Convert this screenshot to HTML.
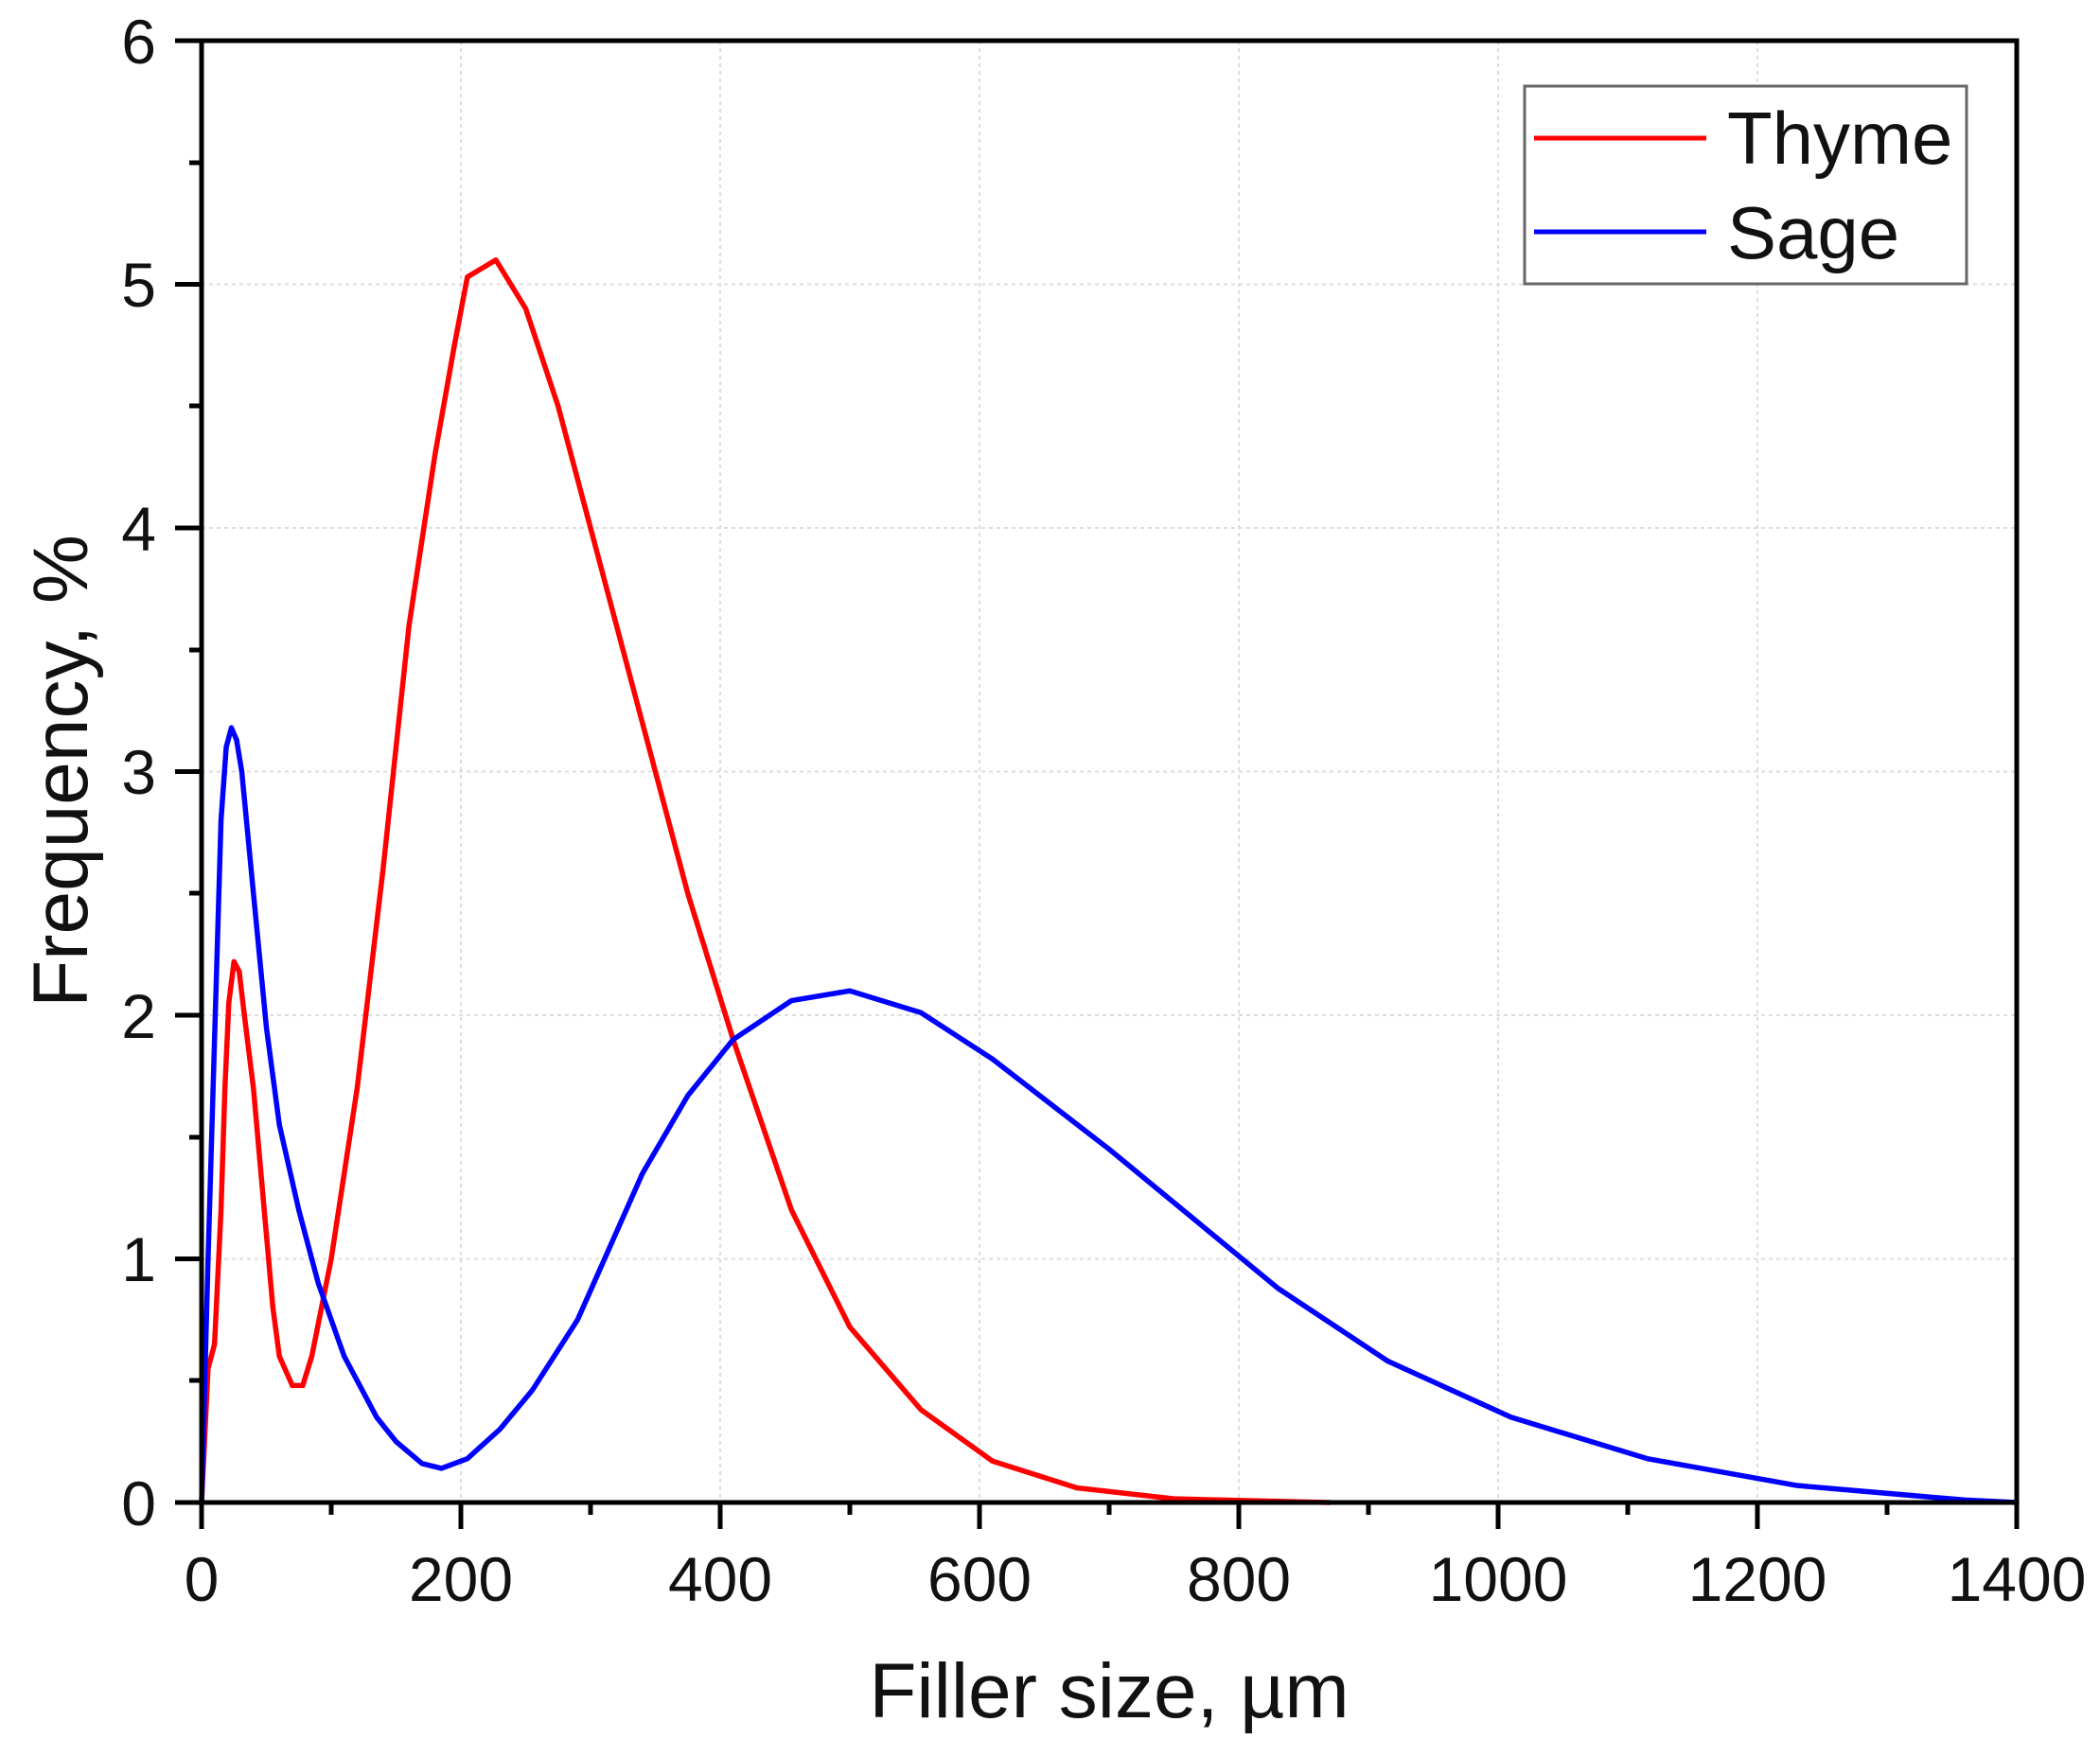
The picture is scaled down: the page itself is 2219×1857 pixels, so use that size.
<!DOCTYPE html>
<html><head><meta charset="utf-8"><style>html,body{margin:0;padding:0;background:#fff}svg{display:block}</style></head>
<body>
<svg width="2219" height="1857" viewBox="0 0 2219 1857" xmlns="http://www.w3.org/2000/svg" font-family="Liberation Sans, Arial, sans-serif">
<rect width="2219" height="1857" fill="#fff"/>
<g stroke="#ddd" stroke-width="2" stroke-dasharray="4,4">
<line x1="487" y1="43" x2="487" y2="1588"/><line x1="761" y1="43" x2="761" y2="1588"/><line x1="1035" y1="43" x2="1035" y2="1588"/><line x1="1309" y1="43" x2="1309" y2="1588"/><line x1="1583" y1="43" x2="1583" y2="1588"/><line x1="1857" y1="43" x2="1857" y2="1588"/>
<line x1="213" y1="1330.5" x2="2131" y2="1330.5"/><line x1="213" y1="1073" x2="2131" y2="1073"/><line x1="213" y1="815.5" x2="2131" y2="815.5"/><line x1="213" y1="558" x2="2131" y2="558"/><line x1="213" y1="300.5" x2="2131" y2="300.5"/>
</g>
<g transform="translate(213,1588) scale(1.37,-257.5)" fill="none" stroke-width="5.5" stroke-linejoin="round" stroke-linecap="round">
<polyline vector-effect="non-scaling-stroke" stroke="#ff0000" points="0,0 5,0.55 10,0.65 15,1.2 18,1.7 21,2.05 25,2.22 29,2.18 33,2.0 40,1.7 50,1.1 55,0.8 60,0.6 70,0.48 78,0.48 85,0.6 100,1.0 120,1.7 140,2.6 160,3.6 180,4.3 195,4.75 205,5.03 227,5.1 250,4.9 275,4.5 300,4.0 340,3.2 375,2.5 410,1.9 455,1.2 500,0.72 555,0.38 610,0.17 675,0.06 750,0.015 870,0"/>
<polyline vector-effect="non-scaling-stroke" stroke="#0000ff" points="0,0 5,1.0 10,1.9 15,2.8 19,3.1 23,3.18 27,3.13 31,3.0 40,2.5 50,1.95 60,1.55 75,1.2 90,0.9 110,0.6 135,0.35 150,0.25 170,0.16 185,0.14 205,0.18 230,0.3 255,0.46 290,0.75 340,1.35 375,1.67 410,1.9 455,2.06 500,2.1 555,2.01 610,1.82 700,1.45 830,0.88 915,0.58 1010,0.35 1115,0.18 1230,0.07 1360,0.01 1400,0"/>
</g>
<g stroke="#000" stroke-width="5" fill="none">
<rect x="213" y="43" width="1918" height="1545"/>
<path d="M213,1588v28 M487,1588v28 M761,1588v28 M1035,1588v28 M1309,1588v28 M1583,1588v28 M1857,1588v28 M2131,1588v28"/>
<path d="M350,1588v13 M624,1588v13 M898,1588v13 M1172,1588v13 M1446,1588v13 M1720,1588v13 M1994,1588v13"/>
<path d="M185,1588h28 M185,1330.5h28 M185,1073h28 M185,815.5h28 M185,558h28 M185,300.5h28 M185,43h28"/>
<path d="M200,1459h13 M200,1202h13 M200,944h13 M200,687h13 M200,429h13 M200,172h13"/>
</g>
<g font-size="66" fill="#111" text-anchor="end">
<text x="165" y="1612">0</text><text x="165" y="1354">1</text><text x="165" y="1097">2</text><text x="165" y="839">3</text><text x="165" y="582">4</text><text x="165" y="324">5</text><text x="165" y="67">6</text>
</g>
<g font-size="66" fill="#111" text-anchor="middle">
<text x="213" y="1692">0</text><text x="487" y="1692">200</text><text x="761" y="1692">400</text><text x="1035" y="1692">600</text><text x="1309" y="1692">800</text><text x="1583" y="1692">1000</text><text x="1857" y="1692">1200</text><text x="2131" y="1692">1400</text>
</g>
<text x="1172" y="1815" font-size="82" fill="#111" text-anchor="middle">Filler size, µm</text>
<text transform="translate(92,815) rotate(-90)" font-size="82" fill="#111" text-anchor="middle">Frequency, %</text>
<rect x="1611" y="91" width="467" height="209" fill="#fff" stroke="#666" stroke-width="3"/>
<line x1="1621" y1="146" x2="1803" y2="146" stroke="#ff0000" stroke-width="5"/>
<line x1="1621" y1="245" x2="1803" y2="245" stroke="#0000ff" stroke-width="5"/>
<text x="1825" y="173" font-size="78" fill="#111">Thyme</text>
<text x="1825" y="273" font-size="78" fill="#111">Sage</text>
</svg>
</body></html>
